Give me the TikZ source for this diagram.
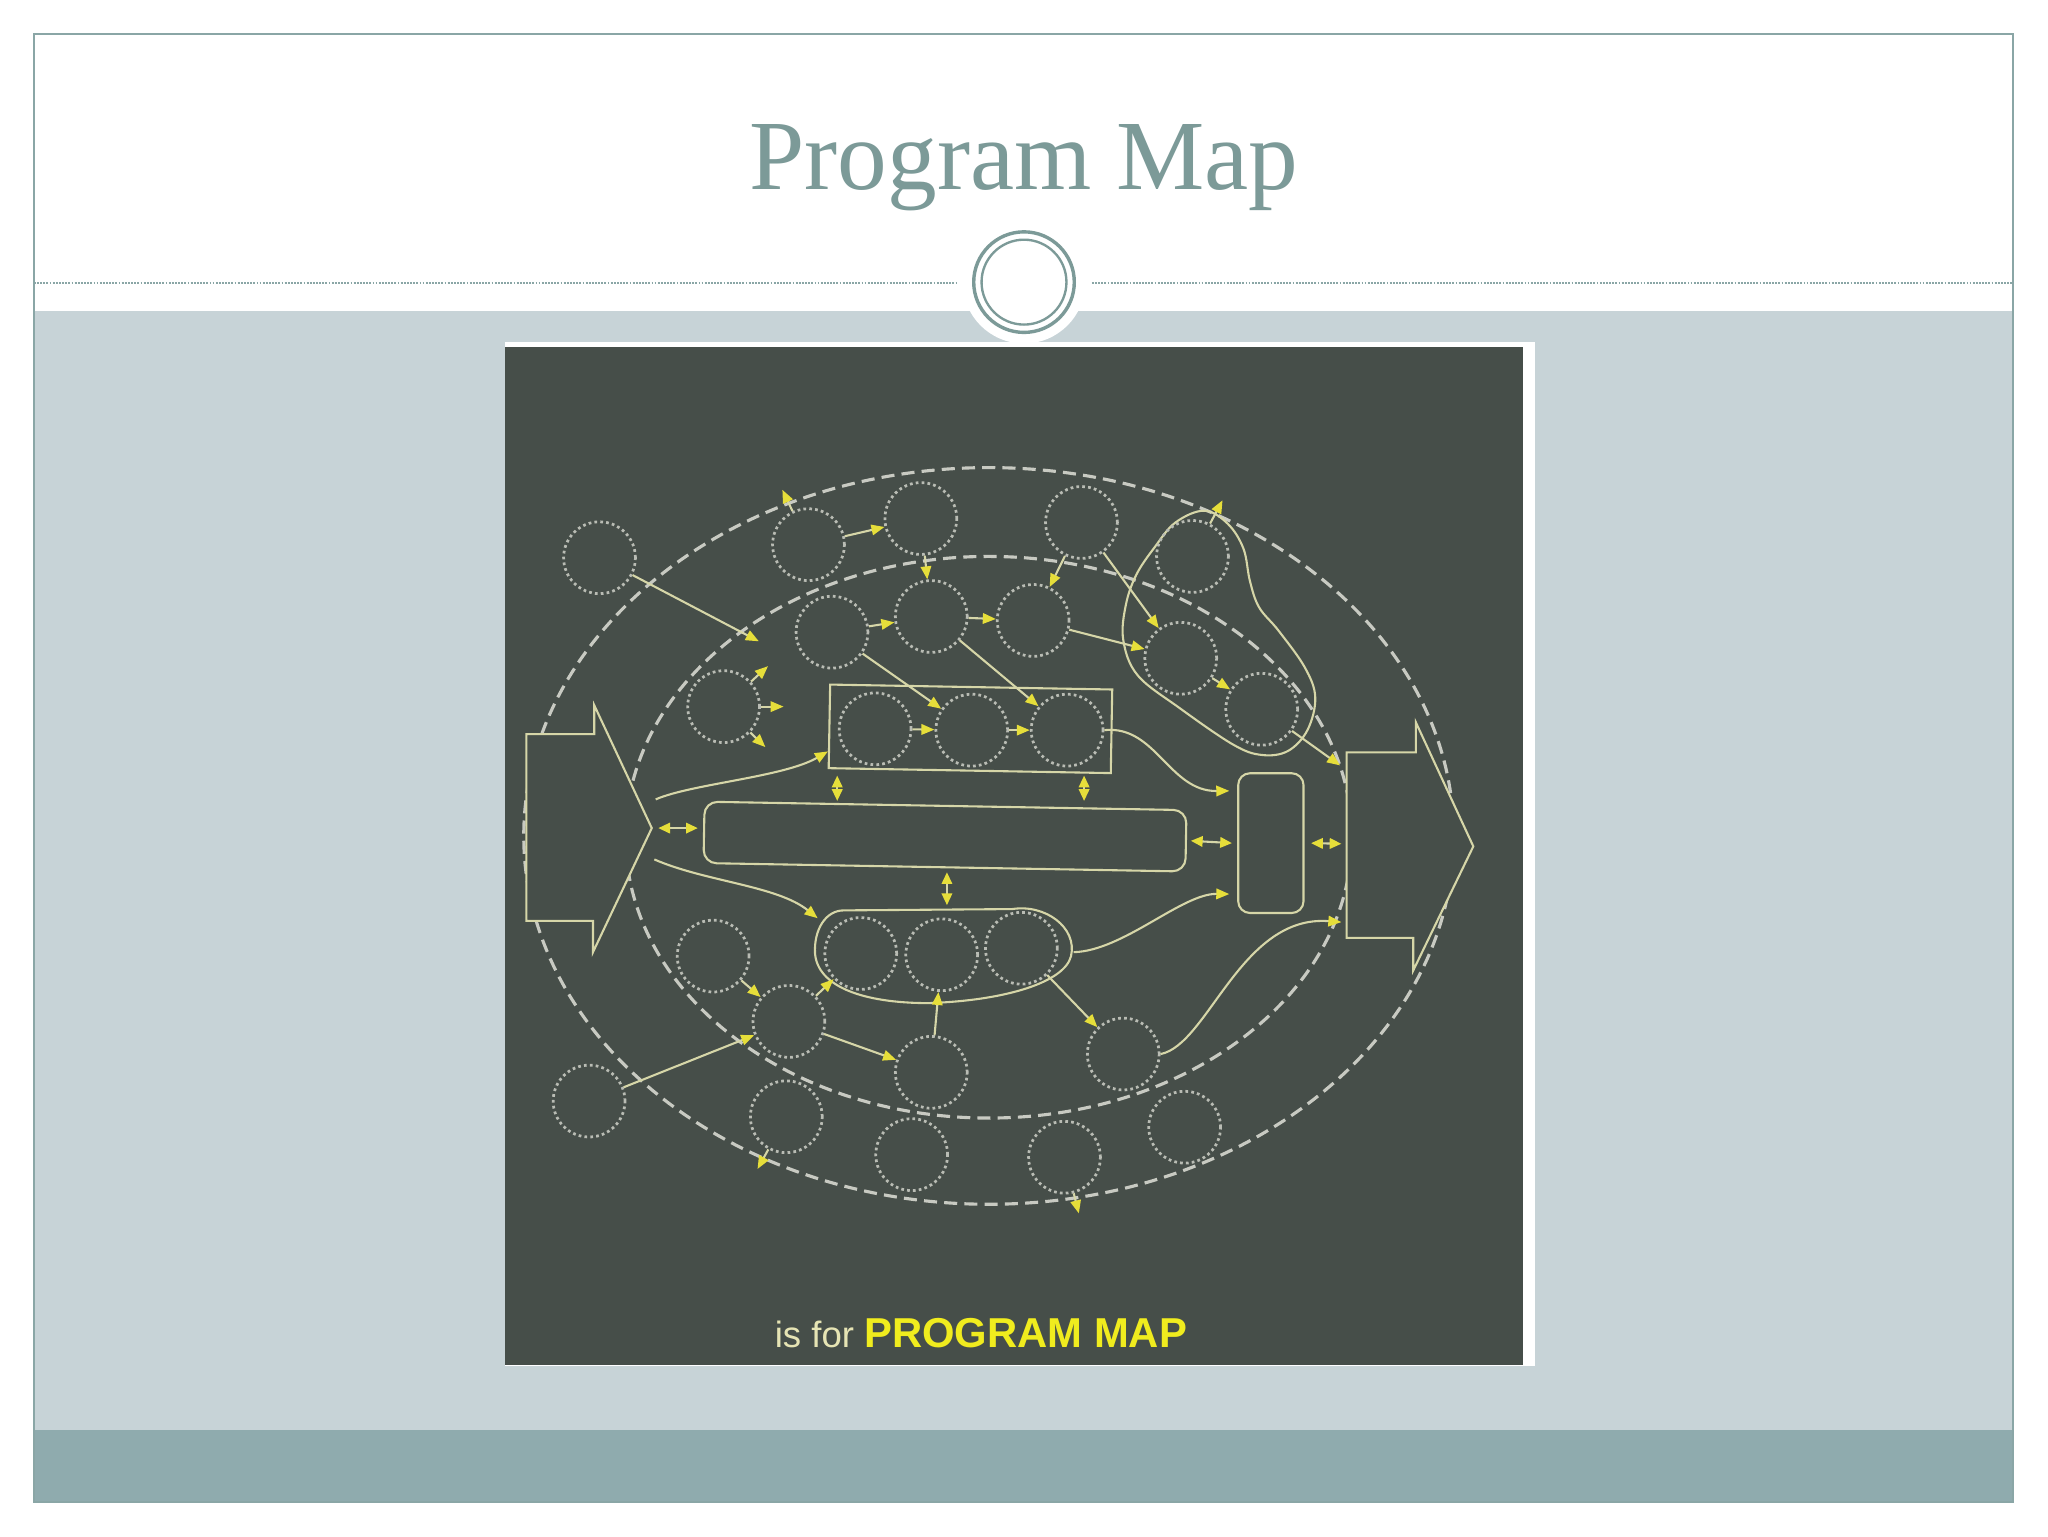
\documentclass[tikz,border=0pt]{standalone}
\usepackage{fontspec}
\newfontfamily\titlefont{Liberation Serif}
\newfontfamily\boardfont{Liberation Sans}
\usetikzlibrary{arrows.meta}

\definecolor{slideteal}{HTML}{8AA6A6}
\definecolor{titleteal}{HTML}{7C9A98}
\definecolor{band}{HTML}{C7D3D7}
\definecolor{footbar}{HTML}{8FABAE}
\definecolor{board}{HTML}{464E49}
\definecolor{chalkline}{HTML}{D6D6A8}
\definecolor{tipyellow}{HTML}{E6DE3A}
\definecolor{dashgray}{HTML}{C8CAC2}
\definecolor{dotgray}{HTML}{B9BCB4}
\definecolor{chalkwhite}{HTML}{E6E4B4}
\definecolor{capyellow}{HTML}{F0EC1E}

\tikzset{
    chalk/.style={draw=chalkline, line width=1.6pt},
    conn/.style={chalk, -{Triangle[color=tipyellow, length=10pt, width=8pt]}},
    dbl/.style={chalk, {Triangle[color=tipyellow, length=9pt, width=8pt]}-{Triangle[color=tipyellow, length=9pt, width=8pt]}},
    dotc/.style={circle, draw=dotgray, line width=2.1pt, dash pattern=on 2.1pt off 2.4pt, minimum size=55pt},
    ring/.style={draw=dashgray, line width=2.4pt, dash pattern=on 10pt off 5.5pt},
    roundbox/.style={draw=chalkline, line width=1.6pt, rounded corners=10pt},
}

\begin{document}
\begin{tikzpicture}[x=1pt, y=-1pt]
    \tikzstyle{every node}=[inner sep=0pt];

    % slide
    \path[use as bounding box, fill=white] (0,0) rectangle (1568,1176);
    \fill[band] (26,238) rectangle (1541,1095);
    \fill[footbar] (26,1095) rectangle (1541,1150);
    \draw[slideteal, line width=1.2pt] (26,26) rectangle (1541,1150);
    \draw[slideteal, line width=1.6pt, dash pattern=on 1.4pt off 1pt]
        (26,217) -- (733,217) (836,217) -- (1541,217);
    \fill[white] (784,216) circle (47);
    \draw[titleteal, line width=2.6pt] (784,216) circle (38.5);
    \draw[titleteal, line width=1.8pt] (784,216) circle (32.5);
    \node at (784,145) (title) [anchor=base, text=titleteal]
        {\titlefont\fontsize{76}{80}\selectfont Program Map};

    % board
    \fill[white] (387,262) rectangle (1175,1046);
    \fill[board] (387,266) rectangle (1166,1045);
    \draw[ring] (757,640) ellipse (356 and 282);
    \draw[ring] (757,641) ellipse (278 and 215);

    % in and out arrows
    \coordinate (intip) at (499,634);
    \coordinate (outtl) at (1031,576);
    \coordinate (outbl) at (1031,718);
    \coordinate (outl) at (1031,646);
    \draw[chalk, fill=board] (403,562) -- (455,562) -- (455,540) -- (intip)
        -- (454,729) -- (454,705) -- (403,705) -- cycle;
    \draw[chalk, fill=board] (outtl) -- (1084,576) -- (1084,553) -- (1128,648)
        -- (1082,743) -- (1082,718) -- (outbl) -- cycle;

    % boxes
    \node at (743,558) (box) [draw=chalkline, line width=1.6pt, minimum width=216pt, minimum height=64pt, rotate=-1] {};
    \node at (723.5,640.5) (bar) [roundbox, minimum width=369pt, minimum height=47pt, rotate=-1] {};
    \node at (973,645.5) (gate) [roundbox, rounded corners=9pt, minimum width=50pt, minimum height=107pt] {};
    \draw[chalk] (646,697) -- (775,696)
        .. controls (800,692) and (825,710) .. (820,732)
        .. controls (815,752) and (770,766) .. (711,768)
        .. controls (660,768) and (626,755) .. (624,730)
        .. controls (623,712) and (632,697) .. (646,697) -- cycle;
    \draw[chalk] plot[smooth cycle, tension=0.6] coordinates {(922,391) (900,400)
        (884,419) (870,440) (862,463) (860,490) (871,517) (903,542) (944,570)
        (966,578) (986,575) (1001,559) (1007,534) (999,511) (979,483) (964,465)
        (957,445) (952,420) (940,401)};
    \coordinate (lbin) at (626,703);
    \coordinate (lbout) at (822,729);
    \coordinate (lbtop) at (725,697);

    % circles
    \node at (459,427) (c1) [dotc] {};
    \node at (619,417) (c2) [dotc] {};
    \node at (705,397) (c3) [dotc] {};
    \node at (828,400) (c4) [dotc] {};
    \node at (913,426) (c5) [dotc] {};
    \node at (637,484) (c6) [dotc] {};
    \node at (713,472) (c7) [dotc] {};
    \node at (791,475) (c8) [dotc] {};
    \node at (904,504) (c9) [dotc] {};
    \node at (966,543) (c10) [dotc] {};
    \node at (554,541) (c11) [dotc] {};
    \node at (670,558) (b1) [dotc] {};
    \node at (744,559) (b2) [dotc] {};
    \node at (817,559) (b3) [dotc] {};
    \node at (659,730) (l1) [dotc] {};
    \node at (721,731) (l2) [dotc] {};
    \node at (782,726) (l3) [dotc] {};
    \node at (546,732) (c15) [dotc] {};
    \node at (604,782) (c16) [dotc] {};
    \node at (713,821) (c18) [dotc] {};
    \node at (451,843) (c19) [dotc] {};
    \node at (602,855) (c20) [dotc] {};
    \node at (698,884) (c21) [dotc] {};
    \node at (815,886) (c22) [dotc] {};
    \node at (907,863) (c23) [dotc] {};
    \node at (860,807) (c24) [dotc] {};

    % free ends
    \coordinate (e1) at (581,491);
    \coordinate (e2) at (599,375);
    \coordinate (e5) at (936,383);
    \coordinate (e11a) at (588,510);
    \coordinate (e11b) at (600,541);
    \coordinate (e11c) at (586,572);
    \coordinate (e20) at (580,895);
    \coordinate (e22) at (826,929);
    \coordinate (colA) at (641,0);
    \coordinate (colB) at (830,0);
    \coordinate (colC) at (725,0);

    % flows
    \draw[conn] (c1) edge (e1);
    \draw[conn] (c2)
        edge (e2)
        edge (c3);
    \draw[conn] (c3) edge (c7);
    \draw[conn] (c4)
        edge (c8)
        edge (c9);
    \draw[conn] (c5) edge (e5);
    \draw[conn] (c6)
        edge (c7)
        edge (b2);
    \draw[conn] (c7)
        edge (c8)
        edge (b3);
    \draw[conn] (c8) edge (c9);
    \draw[conn] (c9) edge (c10);
    \draw[conn] (c10) -- ([shift={(-5,10)}]outtl);
    \draw[conn] (c11)
        edge (e11a)
        edge (e11b)
        edge (e11c);
    \draw[conn] (b1) edge (b2);
    \draw[conn] (b2) edge (b3);
    \draw[conn] (c15) edge (c16);
    \draw[conn] (c16)
        edge (l1)
        edge (c18);
    \draw[conn] (c18) edge (l2);
    \draw[conn] (c19) edge (c16);
    \draw[conn] (c20) edge (e20);
    \draw[conn] (c22) edge (e22);
    \draw[conn] (l3) edge (c24);

    \draw[conn] ([shift={(3,-22)}]intip) .. controls (530,600) and (600,595) .. (box.190);
    \draw[conn] ([shift={(2,24)}]intip) .. controls (540,675) and (595,678) .. (lbin);
    \draw[conn] (b3.east) .. controls (885,555) and (895,606) .. ([shift={(-6,-40)}]gate.west);
    \draw[conn] (lbout) .. controls (860,728) and (905,684) .. ([shift={(-6,39)}]gate.west);
    \draw[conn] (c24.east) .. controls (925,800) and (950,700) .. ([shift={(-4,-12)}]outbl);

    \draw[dbl] ([xshift=5pt]intip) -- ([xshift=-4pt]bar.west |- intip);
    \draw[dbl] ([yshift=-3pt]box.south -| colA) -- ([yshift=3pt]bar.north -| colA);
    \draw[dbl] ([yshift=-3pt]box.south -| colB) -- ([yshift=3pt]bar.north -| colB);
    \draw[dbl] ([yshift=-3pt]bar.south -| colC) -- ([yshift=4pt]lbtop -| colC);
    \draw[dbl] ([xshift=3pt]bar.east) -- ([xshift=-4pt]gate.west);
    \draw[dbl] ([xshift=5pt]gate.east) -- ([xshift=-4pt]outl);

    \node at (593,1032) (caption) [anchor=base west]
        {\boardfont\fontsize{28}{30}\selectfont\color{chalkwhite}is for
         \fontsize{32}{34}\selectfont\bfseries\color{capyellow}PROGRAM MAP};
\end{tikzpicture}
\end{document}
